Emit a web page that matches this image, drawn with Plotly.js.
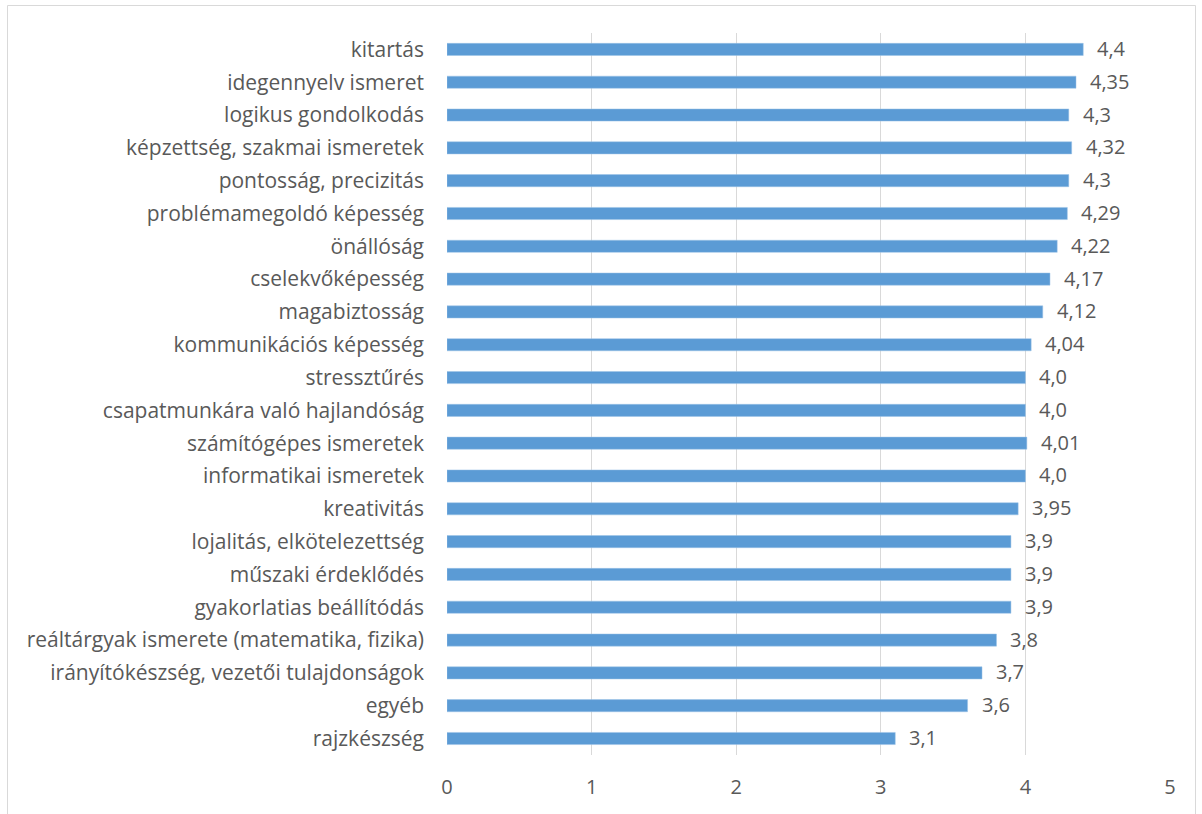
<!DOCTYPE html>
<html>
<head>
<meta charset="utf-8">
<script src="https://cdn.plot.ly/plotly-3.0.1.min.js"></script>
<style>
  html, body { margin: 0; padding: 0; background: #ffffff; }
  #chart { width: 1202px; height: 814px; }
</style>
</head>
<body>
<div id="chart"></div>
<script>
// Skills, in display order (top to bottom)
const categories = [
  "kitartás",
  "idegennyelv ismeret",
  "logikus gondolkodás",
  "képzettség, szakmai ismeretek",
  "pontosság, precizitás",
  "problémamegoldó képesség",
  "önállóság",
  "cselekvőképesség",
  "magabiztosság",
  "kommunikációs képesség",
  "stressztűrés",
  "csapatmunkára való hajlandóság",
  "számítógépes ismeretek",
  "informatikai ismeretek",
  "kreativitás",
  "lojalitás, elkötelezettség",
  "műszaki érdeklődés",
  "gyakorlatias beállítódás",
  "reáltárgyak ismerete (matematika, fizika)",
  "irányítókészség, vezetői tulajdonságok",
  "egyéb",
  "rajzkészség"
];

// Mean scores
const scores = [4.4, 4.35, 4.3, 4.32, 4.3, 4.29, 4.22, 4.17, 4.12, 4.04, 4.0, 4.0,
                4.01, 4.0, 3.95, 3.9, 3.9, 3.9, 3.8, 3.7, 3.6, 3.1];

const xTicks = [0, 1, 2, 3, 4, 5];

// Hungarian decimal comma; one decimal when it is enough, otherwise two
function fmt(v) {
  const one = Math.round(v * 10) / 10;
  const s = Math.abs(one - v) < 1e-9 ? v.toFixed(1) : v.toFixed(2);
  return s.replace(".", ",");
}

const font = "'Open Sans', sans-serif";
const textColor = "#595959";

const trace = {
  type: "bar",
  orientation: "h",
  y: categories,
  x: scores,
  marker: { color: "#5B9BD5", line: { color: "#9DC3E6", width: 0.5 } },
  hoverinfo: "x+y"
};

// Value labels placed just right of each bar end
const valueLabels = categories.map((c, i) => ({
  x: scores[i],
  y: c,
  xref: "x",
  yref: "y",
  text: fmt(scores[i]),
  showarrow: false,
  xanchor: "left",
  yanchor: "middle",
  xshift: 12,
  yshift: 1,
  font: { family: font, size: 20, color: textColor }
}));

// Plot area in pixels: x 447..1170, y 33..755
const L = 447, R = 1170, T = 33, B = 755;
const W = R - L, H = B - T;
const px2x = p => (p - L) / W;
const px2y = p => (B - p) / H;

const layout = {
  width: 1202,
  height: 814,
  margin: { l: L, r: 1202 - R, t: T, b: 814 - B, pad: 0 },
  paper_bgcolor: "#ffffff",
  plot_bgcolor: "#ffffff",
  showlegend: false,
  bargap: 0.63,
  font: { family: font, size: 20, color: textColor },
  xaxis: {
    range: [0, 5],
    tickvals: xTicks,
    ticktext: xTicks.map(String),
    showgrid: true,
    gridcolor: "#D9D9D9",
    gridwidth: 1,
    zeroline: false,
    showline: false,
    ticks: "",
    ticklabelstandoff: 18,
    tickfont: { family: font, size: 20, color: textColor },
    fixedrange: true
  },
  yaxis: {
    autorange: "reversed",
    type: "category",
    showgrid: false,
    zeroline: false,
    showline: false,
    ticks: "",
    ticklabelstandoff: 22,
    tickfont: { family: font, size: 21, color: textColor },
    fixedrange: true
  },
  annotations: valueLabels,
  shapes: [
    {
      type: "rect",
      xref: "paper", yref: "paper",
      x0: px2x(7.5), x1: px2x(1195.5),
      y0: px2y(830), y1: px2y(5.5),
      line: { color: "#D9D9D9", width: 1 },
      fillcolor: "rgba(0,0,0,0)",
      layer: "below"
    }
  ]
};

Plotly.newPlot("chart", [trace], layout, { displayModeBar: false, staticPlot: true });
</script>
</body>
</html>
